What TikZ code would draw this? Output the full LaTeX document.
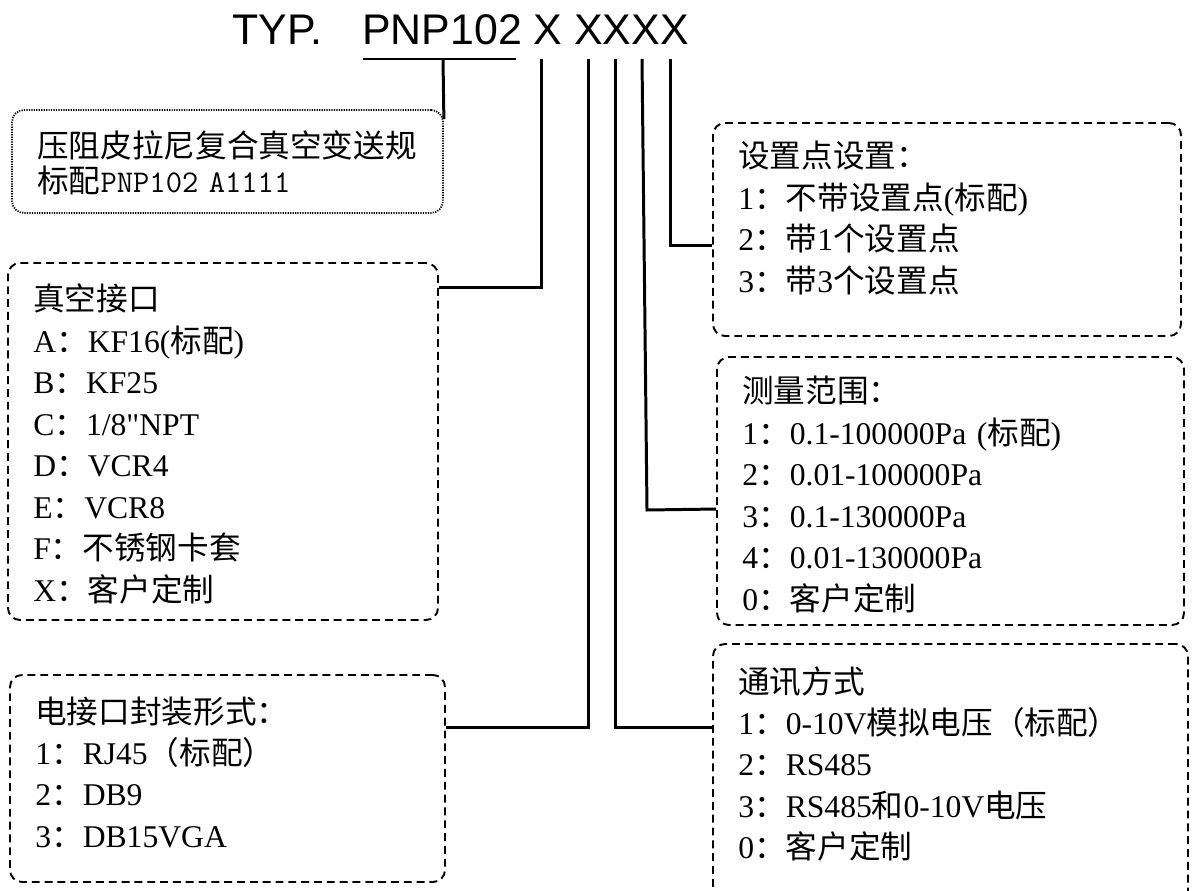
\documentclass[tikz,border=0pt]{standalone}
\usepackage{fontspec}
\setmainfont{Liberation Serif}
\newfontfamily\cjk{Noto Sans CJK SC}
\newfontfamily\ttlfont{Liberation Sans}
\newfontfamily\rawserif[Ligatures=TeXOff]{Liberation Serif}
\newcommand\cj[1]{{\cjk #1}}
\usetikzlibrary{calc,fit}
\begin{document}
\begin{tikzpicture}[x=0.02cm,y=-0.02cm,
  conn/.style={line width=1.7pt},
  dbox/.style={draw, line width=1.1pt, dash pattern=on 4.5pt off 2.8pt, rounded corners=0.24cm, inner sep=0pt},
  dotbox/.style={draw, line width=1pt, dash pattern=on 0.7pt off 0.7pt, rounded corners=0.24cm, inner sep=0pt},
  ttl/.style={anchor=base west, inner sep=0pt, font=\ttlfont\fontsize{24.4pt}{28pt}\selectfont},
  txt/.style={anchor=base west, inner sep=0pt, text width=10cm, align=left, font=\fontsize{18pt}{23.6pt}\selectfont}
]
\useasboundingbox (0,0) rectangle (1200,891);

% title
\node[ttl] (typ) at (232,45) {TYP.};
\node[ttl] (code) at (362,45) {PNP102 X XXXX};

% boxes
\node[dotbox, fit={(12,110) (443,213)}] (b1) {};
\node[dbox, fit={(8,263) (438,620)}] (b2) {};
\node[dbox, fit={(10,675) (445,882)}] (b3) {};
\node[dbox, fit={(713,123) (1181,336)}] (b4) {};
\node[dbox, fit={(717,357) (1184,625)}] (b5) {};
\node[dbox, fit={(713,644) (1188,905)}] (b6) {};

% texts
\node[txt, font=\fontsize{18pt}{19.9pt}\selectfont] (x1) at (37,158) {\cj{压阻皮拉尼复合真空变送规}\\\cj{标配}{\ttfamily PNP102 A1111}};
\node[txt] (x2) at (33,311) {\cj{真空接口}\\A\cj{：}KF16(\cj{标配})\\B\cj{：}KF25\\C\cj{：}1/8{\rawserif "}NPT\\D\cj{：}VCR4\\E\cj{：}VCR8\\F\cj{：不锈钢卡套}\\X\cj{：客户定制}};
\node[txt] (x3) at (35,723) {\cj{电接口封装形式：}\\1\cj{：}RJ45\cj{（标配）}\\2\cj{：}DB9\\3\cj{：}DB15VGA};
\node[txt] (x4) at (738,168) {\cj{设置点设置：}\\1\cj{：不带设置点}(\cj{标配})\\2\cj{：带}1\cj{个设置点}\\3\cj{：带}3\cj{个设置点}};
\node[txt] (x5) at (742,403) {\cj{测量范围：}\\1\cj{：}0.1-100000Pa (\cj{标配})\\2\cj{：}0.01-100000Pa\\3\cj{：}0.1-130000Pa\\4\cj{：}0.01-130000Pa\\0\cj{：客户定制}};
\node[txt] (x6) at (738,693) {\cj{通讯方式}\\1\cj{：}0-10V\cj{模拟电压（标配）}\\2\cj{：}RS485\\3\cj{：}RS485\cj{和}0-10V\cj{电压}\\0\cj{：客户定制}};

% connector tops
\coordinate (ul) at (363,59);
\coordinate (ur) at (516,59);
\coordinate (um) at (443,59);
\coordinate (t2) at (541,59);
\coordinate (t3) at (588,59);
\coordinate (t6) at (615,59);
\coordinate (t5) at (642,59);
\coordinate (t4) at (670,59);

\draw[conn] (ul) -- (ur);
\draw[conn] (um) -- ($(b1.north east)+(0,10)$);
\draw[conn] (t2) |- ($(b2.north east)+(0,25)$);
\draw[conn] (t3) |- ($(b3.north east)+(0,53)$);
\draw[conn] (t6) |- ($(b6.north west)+(0,84)$);
\draw[conn] (t5) -- ($(t5)+(5,451)$) -- ($(b5.north west)+(0,153)$);
\draw[conn] (t4) |- ($(b4.north west)+(0,123)$);
\end{tikzpicture}
\end{document}
